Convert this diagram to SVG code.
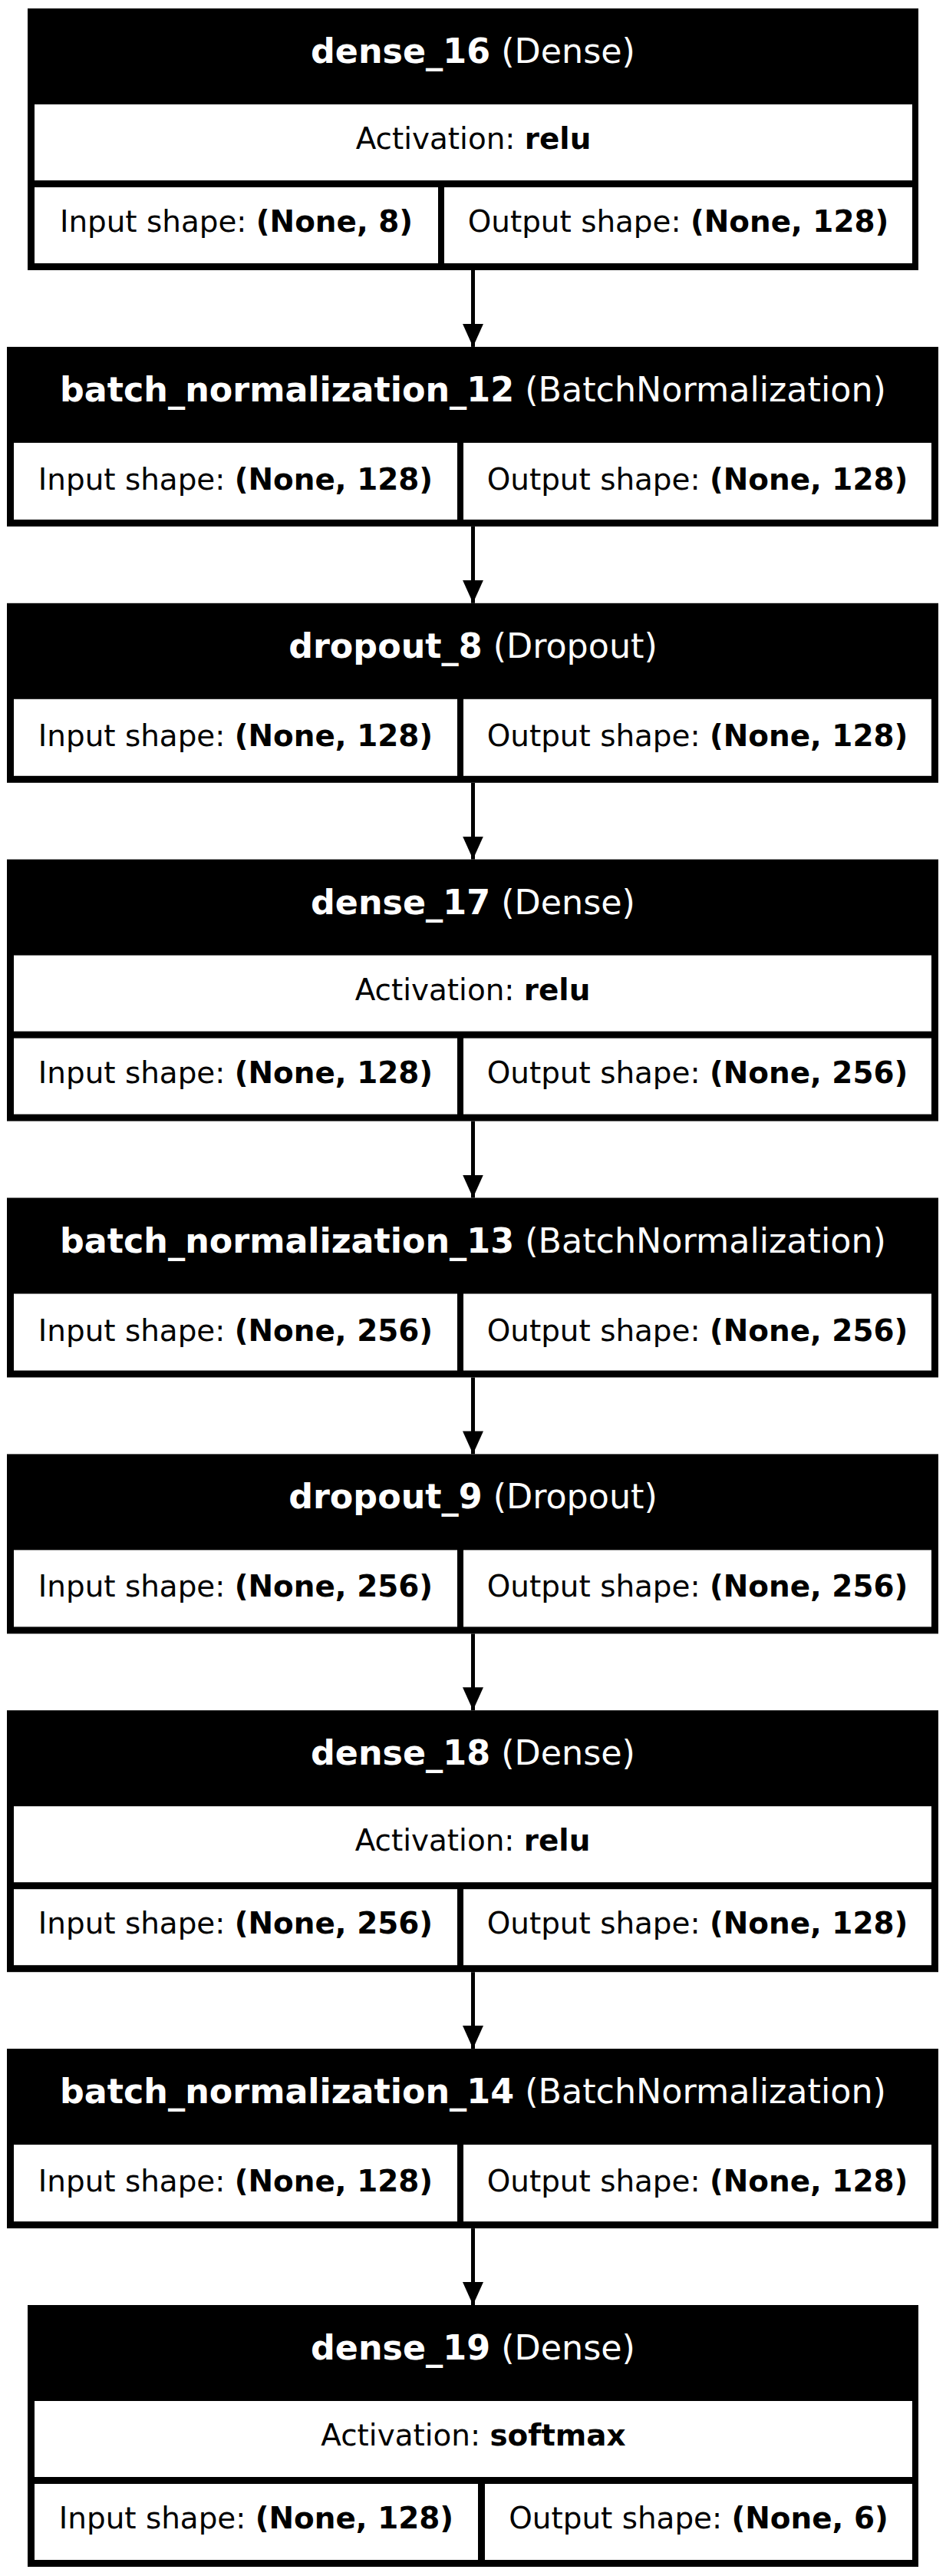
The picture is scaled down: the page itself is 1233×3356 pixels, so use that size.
<svg xmlns="http://www.w3.org/2000/svg" width="1233" height="3356" viewBox="0 0 1233 3356">
<style>
text{font-family:"DejaVu Sans","Liberation Sans",sans-serif;text-anchor:middle}
.hd{font-size:44.4px;fill:#fff}
.bd{font-size:38.9px;fill:#000}
.b{font-weight:bold}
.frame{fill:#000}
.cell{fill:#fff}
.edge{stroke:#000;stroke-width:5;fill:none}
</style>
<defs>
<marker id="ah" markerUnits="userSpaceOnUse" markerWidth="30" markerHeight="27" viewBox="0 0 30 27" refX="30" refY="13.5" orient="auto">
<path d="M0,0 L30,13.5 L0,27 Z" fill="#000"/>
</marker>
</defs>
<rect width="1233" height="3356" fill="#fff"/>
<g id="connectors">
<line class="edge" x1="616.5" y1="352" x2="616.5" y2="451.9" marker-end="url(#ah)"/>
<line class="edge" x1="616.5" y1="685.9" x2="616.5" y2="785.8" marker-end="url(#ah)"/>
<line class="edge" x1="616.5" y1="1019.8" x2="616.5" y2="1119.6" marker-end="url(#ah)"/>
<line class="edge" x1="616.5" y1="1460.6" x2="616.5" y2="1560.5" marker-end="url(#ah)"/>
<line class="edge" x1="616.5" y1="1794.5" x2="616.5" y2="1894.4" marker-end="url(#ah)"/>
<line class="edge" x1="616.5" y1="2128.4" x2="616.5" y2="2228.2" marker-end="url(#ah)"/>
<line class="edge" x1="616.5" y1="2569.2" x2="616.5" y2="2669.1" marker-end="url(#ah)"/>
<line class="edge" x1="616.5" y1="2903.1" x2="616.5" y2="3003" marker-end="url(#ah)"/>
</g>
<g id="dense_16" transform="translate(0,11)">
<rect class="frame" x="36" y="0" width="1161" height="341"/>
<rect class="cell" x="45" y="125" width="1144" height="99"/>
<rect class="cell" x="45" y="233" width="526" height="99"/>
<rect class="cell" x="579" y="233" width="610" height="99"/>
<text class="hd" x="616.5" y="71"><tspan class="b">dense_16</tspan> (Dense)</text>
<text class="bd" x="617" y="183">Activation: <tspan class="b">relu</tspan></text>
<text class="bd" x="308" y="291">Input shape: <tspan class="b">(None, 8)</tspan></text>
<text class="bd" x="884" y="291">Output shape: <tspan class="b">(None, 128)</tspan></text>
</g>
<g id="batch_normalization_12" transform="translate(0,451.9)">
<rect class="frame" x="9" y="0" width="1214" height="234"/>
<rect class="cell" x="18" y="125" width="578" height="100"/>
<rect class="cell" x="604" y="125" width="610" height="100"/>
<text class="hd" x="616.5" y="71"><tspan class="b">batch_normalization_12</tspan> (BatchNormalization)</text>
<text class="bd" x="307" y="186">Input shape: <tspan class="b">(None, 128)</tspan></text>
<text class="bd" x="909" y="186">Output shape: <tspan class="b">(None, 128)</tspan></text>
</g>
<g id="dropout_8" transform="translate(0,785.8)">
<rect class="frame" x="9" y="0" width="1214" height="234"/>
<rect class="cell" x="18" y="125" width="578" height="100"/>
<rect class="cell" x="604" y="125" width="610" height="100"/>
<text class="hd" x="616.5" y="71"><tspan class="b">dropout_8</tspan> (Dropout)</text>
<text class="bd" x="307" y="186">Input shape: <tspan class="b">(None, 128)</tspan></text>
<text class="bd" x="909" y="186">Output shape: <tspan class="b">(None, 128)</tspan></text>
</g>
<g id="dense_17" transform="translate(0,1119.6)">
<rect class="frame" x="9" y="0" width="1214" height="341"/>
<rect class="cell" x="18" y="125" width="1196" height="99"/>
<rect class="cell" x="18" y="233" width="578" height="99"/>
<rect class="cell" x="604" y="233" width="610" height="99"/>
<text class="hd" x="616.5" y="71"><tspan class="b">dense_17</tspan> (Dense)</text>
<text class="bd" x="616" y="183">Activation: <tspan class="b">relu</tspan></text>
<text class="bd" x="307" y="291">Input shape: <tspan class="b">(None, 128)</tspan></text>
<text class="bd" x="909" y="291">Output shape: <tspan class="b">(None, 256)</tspan></text>
</g>
<g id="batch_normalization_13" transform="translate(0,1560.5)">
<rect class="frame" x="9" y="0" width="1214" height="234"/>
<rect class="cell" x="18" y="125" width="578" height="100"/>
<rect class="cell" x="604" y="125" width="610" height="100"/>
<text class="hd" x="616.5" y="71"><tspan class="b">batch_normalization_13</tspan> (BatchNormalization)</text>
<text class="bd" x="307" y="186">Input shape: <tspan class="b">(None, 256)</tspan></text>
<text class="bd" x="909" y="186">Output shape: <tspan class="b">(None, 256)</tspan></text>
</g>
<g id="dropout_9" transform="translate(0,1894.4)">
<rect class="frame" x="9" y="0" width="1214" height="234"/>
<rect class="cell" x="18" y="125" width="578" height="100"/>
<rect class="cell" x="604" y="125" width="610" height="100"/>
<text class="hd" x="616.5" y="71"><tspan class="b">dropout_9</tspan> (Dropout)</text>
<text class="bd" x="307" y="186">Input shape: <tspan class="b">(None, 256)</tspan></text>
<text class="bd" x="909" y="186">Output shape: <tspan class="b">(None, 256)</tspan></text>
</g>
<g id="dense_18" transform="translate(0,2228.2)">
<rect class="frame" x="9" y="0" width="1214" height="341"/>
<rect class="cell" x="18" y="125" width="1196" height="99"/>
<rect class="cell" x="18" y="233" width="578" height="99"/>
<rect class="cell" x="604" y="233" width="610" height="99"/>
<text class="hd" x="616.5" y="71"><tspan class="b">dense_18</tspan> (Dense)</text>
<text class="bd" x="616" y="183">Activation: <tspan class="b">relu</tspan></text>
<text class="bd" x="307" y="291">Input shape: <tspan class="b">(None, 256)</tspan></text>
<text class="bd" x="909" y="291">Output shape: <tspan class="b">(None, 128)</tspan></text>
</g>
<g id="batch_normalization_14" transform="translate(0,2669.1)">
<rect class="frame" x="9" y="0" width="1214" height="234"/>
<rect class="cell" x="18" y="125" width="578" height="100"/>
<rect class="cell" x="604" y="125" width="610" height="100"/>
<text class="hd" x="616.5" y="71"><tspan class="b">batch_normalization_14</tspan> (BatchNormalization)</text>
<text class="bd" x="307" y="186">Input shape: <tspan class="b">(None, 128)</tspan></text>
<text class="bd" x="909" y="186">Output shape: <tspan class="b">(None, 128)</tspan></text>
</g>
<g id="dense_19" transform="translate(0,3003)">
<rect class="frame" x="36" y="0" width="1161" height="341"/>
<rect class="cell" x="45" y="125" width="1144" height="99"/>
<rect class="cell" x="45" y="233" width="578" height="99"/>
<rect class="cell" x="632" y="233" width="557" height="99"/>
<text class="hd" x="616.5" y="71"><tspan class="b">dense_19</tspan> (Dense)</text>
<text class="bd" x="617" y="183">Activation: <tspan class="b">softmax</tspan></text>
<text class="bd" x="334" y="291">Input shape: <tspan class="b">(None, 128)</tspan></text>
<text class="bd" x="910.5" y="291">Output shape: <tspan class="b">(None, 6)</tspan></text>
</g>
</svg>
